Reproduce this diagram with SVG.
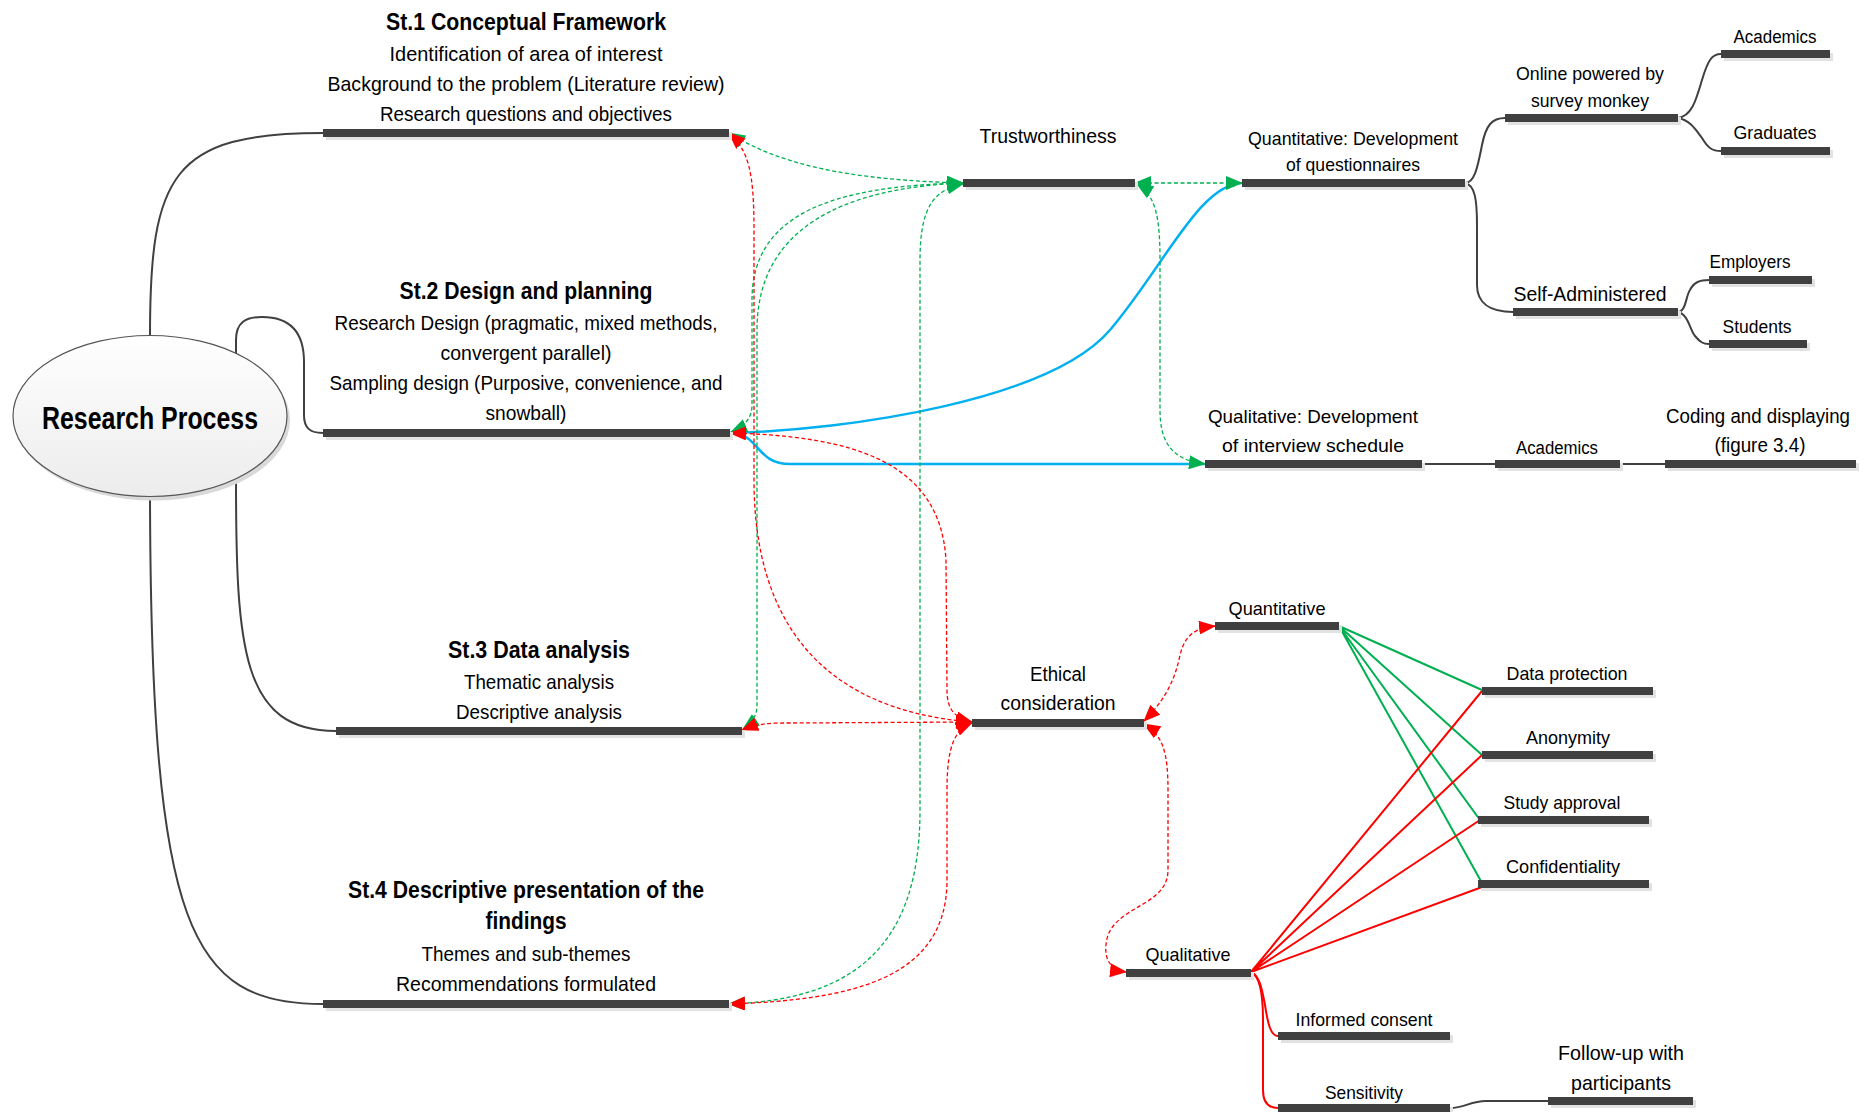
<svg xmlns="http://www.w3.org/2000/svg" width="1866" height="1112" viewBox="0 0 1866 1112">
<style>
.bar{fill:#404040}
.sh{fill:#e2e2e2}
.t{font-family:"Liberation Sans",Arial,sans-serif;fill:#000;text-anchor:middle;font-size:21px}
.s19{font-size:19px}
.s18{font-size:18px}
.b{font-weight:bold;font-size:23px}
.tree{fill:none;stroke:#404040;stroke-width:2}
.gd{fill:none;stroke:#00b050;stroke-width:1.3;stroke-dasharray:4 2.5}
.rd{fill:none;stroke:#ff0000;stroke-width:1.3;stroke-dasharray:4 2.5}
.blue{fill:none;stroke:#00b0f0;stroke-width:2.5}
.gs{fill:none;stroke:#00b050;stroke-width:2}
.rs{fill:none;stroke:#ff0000;stroke-width:2}
</style>
<defs>
<linearGradient id="eg" x1="0" y1="0" x2="0" y2="1">
<stop offset="0" stop-color="#ffffff"/>
<stop offset="1" stop-color="#ececec"/>
</linearGradient>
<marker id="ag" viewBox="0 0 17 14" refX="16" refY="7" markerWidth="17" markerHeight="14" markerUnits="userSpaceOnUse" orient="auto-start-reverse"><path d="M0,0 L17,7 L0,14 z" fill="#00b050"/></marker>
<marker id="ar" viewBox="0 0 17 14" refX="16" refY="7" markerWidth="17" markerHeight="14" markerUnits="userSpaceOnUse" orient="auto-start-reverse"><path d="M0,0 L17,7 L0,14 z" fill="#ff0000"/></marker>
</defs>
<rect width="1866" height="1112" fill="#ffffff"/>

<g id="connectors">
<path class="tree" d="M150 335 C150 175 172 133 323 133"/>
<path class="tree" d="M236 354 L236 340 C236 322 246 317 262 317 C288 317 304 330 304 362 L304 415 C304 428 310 433 323 433"/>
<path class="tree" d="M236 478 C236 650 242 731 336 731"/>
<path class="tree" d="M150 496 C151 930 190 1004 323 1004"/>
<path class="tree" d="M1465 183 C1475 183 1478 165 1482 145 C1486 125 1492 118 1505 118"/>
<path class="tree" d="M1465 183 C1475 185 1477 200 1477 225 L1477 285 C1477 303 1490 312 1513 312"/>
<path class="tree" d="M1678 118 C1692 116 1696 100 1702 80 C1708 60 1712 54 1721 54"/>
<path class="tree" d="M1678 118 C1690 120 1696 130 1702 138 C1708 148 1712 151 1721 151"/>
<path class="tree" d="M1678 312 C1686 312 1686 295 1690 290 C1694 282 1700 280 1709 280"/>
<path class="tree" d="M1678 312 C1688 314 1690 330 1695 336 C1700 342 1703 344 1709 344"/>
<path class="tree" d="M1422 464 L1495 464 M1620 464 L1665 464"/>
<path class="tree" d="M1450 1108 C1465 1108 1470 1101 1486 1101 L1548 1101"/>
<path class="blue" d="M730 433 C850 430 1050 400 1110 330 C1165 265 1200 183 1243 183"/>
<path class="blue" d="M730 433 C760 433 755 464 790 464 L1205 464"/>
<path class="gs" d="M1339 626 L1482 690 M1339 626 L1482 755 M1339 626 L1480 820 M1339 626 L1482 883"/>
<path class="rs" d="M1251 972 L1482 691 M1251 972 L1482 755 M1251 972 L1480 820 M1251 972 L1493 883"/>
<path class="rs" d="M1251 972 C1260 976 1262 990 1265 1005 C1268 1025 1271 1036 1278 1036"/>
<path class="rs" d="M1251 972 C1260 976 1263 995 1263 1020 L1263 1090 C1263 1102 1268 1108 1278 1108"/>
<path class="gd" marker-start="url(#ag)" marker-end="url(#ag)" d="M729 133 C780 165 850 180 963 183"/>
<path class="gd" marker-start="url(#ag)" marker-end="url(#ag)" d="M963 183 C830 186 752 215 752 300 L752 405 C752 418 745 426 731 432"/>
<path class="gd" marker-start="url(#ag)" marker-end="url(#ag)" d="M963 183 C840 188 757 230 757 330 L757 705 C757 715 753 722 743 729"/>
<path class="gd" marker-start="url(#ag)" marker-end="url(#ag)" d="M963 184 C935 190 920 205 920 260 L920 810 C920 950 850 1000 729 1004"/>
<path class="gd" marker-start="url(#ag)" marker-end="url(#ag)" d="M1135 183 L1242 183"/>
<path class="gd" marker-start="url(#ag)" marker-end="url(#ag)" d="M1137 184 C1155 195 1160 215 1160 260 L1160 410 C1160 440 1170 460 1205 464"/>
<path class="rd" marker-start="url(#ar)" marker-end="url(#ar)" d="M729 133 C748 150 754 170 754 230 L754 480 C754 620 820 710 972 722"/>
<path class="rd" marker-start="url(#ar)" marker-end="url(#ar)" d="M730 433 C850 436 940 460 946 560 L947 690 C947 710 955 718 972 722"/>
<path class="rd" marker-start="url(#ar)" marker-end="url(#ar)" d="M742 730 C760 723 770 723 790 723 L972 722"/>
<path class="rd" marker-start="url(#ar)" marker-end="url(#ar)" d="M972 723 C955 730 947 745 947 790 L947 880 C947 980 850 1000 729 1004"/>
<path class="rd" marker-start="url(#ar)" marker-end="url(#ar)" d="M1144 721 C1165 700 1175 680 1180 655 C1185 635 1195 628 1215 626"/>
<path class="rd" marker-start="url(#ar)" marker-end="url(#ar)" d="M1144 724 C1162 735 1168 750 1168 790 L1168 870 C1168 905 1120 905 1108 935 C1102 955 1108 970 1126 972"/>
</g>

<g id="research-process">
<ellipse cx="153" cy="420" rx="137" ry="80.5" fill="#d9d9d9"/>
<ellipse cx="150" cy="416" rx="137" ry="80.5" fill="url(#eg)" stroke="#555555" stroke-width="1.2"/>
<text class="t" x="150" y="429" style="font-weight:bold;font-size:31px" textLength="216" lengthAdjust="spacingAndGlyphs">Research Process</text>
</g>

<g id="st1">
<rect class="sh" x="326" y="132" width="406" height="8"/>
<rect class="bar" x="323" y="129" width="406" height="8"/>
<text class="t b" x="526" y="30" textLength="280" lengthAdjust="spacingAndGlyphs">St.1 Conceptual Framework</text>
<text class="t" x="526" y="61" textLength="273" lengthAdjust="spacingAndGlyphs">Identification of area of interest</text>
<text class="t" x="526" y="91" textLength="397" lengthAdjust="spacingAndGlyphs">Background to the problem (Literature review)</text>
<text class="t" x="526" y="121" textLength="292" lengthAdjust="spacingAndGlyphs">Research questions and objectives</text>
</g>

<g id="st2">
<rect class="sh" x="326" y="432" width="407" height="8"/>
<rect class="bar" x="323" y="429" width="407" height="8"/>
<text class="t b" x="526" y="299" textLength="253" lengthAdjust="spacingAndGlyphs">St.2 Design and planning</text>
<text class="t" x="526" y="330" textLength="383" lengthAdjust="spacingAndGlyphs">Research Design (pragmatic, mixed methods,</text>
<text class="t" x="526" y="360" textLength="171" lengthAdjust="spacingAndGlyphs">convergent parallel)</text>
<text class="t" x="526" y="390" textLength="393" lengthAdjust="spacingAndGlyphs">Sampling design (Purposive, convenience, and</text>
<text class="t" x="526" y="420" textLength="81" lengthAdjust="spacingAndGlyphs">snowball)</text>
</g>

<g id="st3">
<rect class="sh" x="339" y="730" width="406" height="8"/>
<rect class="bar" x="336" y="727" width="406" height="8"/>
<text class="t b" x="539" y="658" textLength="182" lengthAdjust="spacingAndGlyphs">St.3 Data analysis</text>
<text class="t" x="539" y="689" textLength="150" lengthAdjust="spacingAndGlyphs">Thematic analysis</text>
<text class="t" x="539" y="719" textLength="166" lengthAdjust="spacingAndGlyphs">Descriptive analysis</text>
</g>

<g id="st4">
<rect class="sh" x="326" y="1003" width="406" height="8"/>
<rect class="bar" x="323" y="1000" width="406" height="8"/>
<text class="t b" x="526" y="898" textLength="356" lengthAdjust="spacingAndGlyphs">St.4 Descriptive presentation of the</text>
<text class="t b" x="526" y="929" textLength="81" lengthAdjust="spacingAndGlyphs">findings</text>
<text class="t" x="526" y="961" textLength="209" lengthAdjust="spacingAndGlyphs">Themes and sub-themes</text>
<text class="t" x="526" y="991" textLength="260" lengthAdjust="spacingAndGlyphs">Recommendations formulated</text>
</g>

<g id="trustworthiness">
<rect class="sh" x="966" y="182" width="172" height="8"/>
<rect class="bar" x="963" y="179" width="172" height="8"/>
<text class="t" x="1048" y="143" textLength="137" lengthAdjust="spacingAndGlyphs">Trustworthiness</text>
</g>

<g id="quant-dev">
<rect class="sh" x="1245" y="182" width="223" height="8"/>
<rect class="bar" x="1242" y="179" width="223" height="8"/>
<text class="t s19" x="1353" y="145" textLength="210" lengthAdjust="spacingAndGlyphs">Quantitative: Development</text>
<text class="t s19" x="1353" y="171" textLength="134" lengthAdjust="spacingAndGlyphs">of questionnaires</text>
</g>

<g id="online">
<rect class="sh" x="1508" y="117" width="173" height="8"/>
<rect class="bar" x="1505" y="114" width="173" height="8"/>
<text class="t s19" x="1590" y="80" textLength="148" lengthAdjust="spacingAndGlyphs">Online powered by</text>
<text class="t s19" x="1590" y="107" textLength="118" lengthAdjust="spacingAndGlyphs">survey monkey</text>
</g>

<g id="academics-1">
<rect class="sh" x="1724" y="53" width="109" height="8"/>
<rect class="bar" x="1721" y="50" width="109" height="8"/>
<text class="t s18" x="1775" y="43" textLength="83" lengthAdjust="spacingAndGlyphs">Academics</text>
</g>

<g id="graduates">
<rect class="sh" x="1724" y="150" width="109" height="8"/>
<rect class="bar" x="1721" y="147" width="109" height="8"/>
<text class="t s19" x="1775" y="139" textLength="83" lengthAdjust="spacingAndGlyphs">Graduates</text>
</g>

<g id="self-administered">
<rect class="sh" x="1516" y="311" width="165" height="8"/>
<rect class="bar" x="1513" y="308" width="165" height="8"/>
<text class="t" x="1590" y="301" textLength="153" lengthAdjust="spacingAndGlyphs">Self-Administered</text>
</g>

<g id="employers">
<rect class="sh" x="1712" y="279" width="103" height="8"/>
<rect class="bar" x="1709" y="276" width="103" height="8"/>
<text class="t s18" x="1750" y="268" textLength="81" lengthAdjust="spacingAndGlyphs">Employers</text>
</g>

<g id="students">
<rect class="sh" x="1712" y="343" width="98" height="8"/>
<rect class="bar" x="1709" y="340" width="98" height="8"/>
<text class="t s18" x="1757" y="333" textLength="69" lengthAdjust="spacingAndGlyphs">Students</text>
</g>

<g id="qual-dev">
<rect class="sh" x="1208" y="463" width="217" height="8"/>
<rect class="bar" x="1205" y="460" width="217" height="8"/>
<text class="t s19" x="1313" y="423" textLength="210" lengthAdjust="spacingAndGlyphs">Qualitative: Development</text>
<text class="t s19" x="1313" y="452" textLength="182" lengthAdjust="spacingAndGlyphs">of interview schedule</text>
</g>

<g id="academics-2">
<rect class="sh" x="1498" y="463" width="125" height="8"/>
<rect class="bar" x="1495" y="460" width="125" height="8"/>
<text class="t s18" x="1557" y="454" textLength="82" lengthAdjust="spacingAndGlyphs">Academics</text>
</g>

<g id="coding">
<rect class="sh" x="1668" y="463" width="191" height="8"/>
<rect class="bar" x="1665" y="460" width="191" height="8"/>
<text class="t" x="1758" y="423" style="font-size:19.5px" textLength="184" lengthAdjust="spacingAndGlyphs">Coding and displaying</text>
<text class="t" x="1760" y="452" textLength="91" lengthAdjust="spacingAndGlyphs">(figure 3.4)</text>
</g>

<g id="ethical">
<rect class="sh" x="975" y="722" width="172" height="8"/>
<rect class="bar" x="972" y="719" width="172" height="8"/>
<text class="t" x="1058" y="681" style="font-size:20px" textLength="56" lengthAdjust="spacingAndGlyphs">Ethical</text>
<text class="t" x="1058" y="710" style="font-size:20px" textLength="115" lengthAdjust="spacingAndGlyphs">consideration</text>
</g>

<g id="quantitative">
<rect class="sh" x="1218" y="625" width="124" height="8"/>
<rect class="bar" x="1215" y="622" width="124" height="8"/>
<text class="t s19" x="1277" y="615" textLength="97" lengthAdjust="spacingAndGlyphs">Quantitative</text>
</g>

<g id="data-protection">
<rect class="sh" x="1485" y="690" width="171" height="8"/>
<rect class="bar" x="1482" y="687" width="171" height="8"/>
<text class="t s19" x="1567" y="680" textLength="121" lengthAdjust="spacingAndGlyphs">Data protection</text>
</g>

<g id="anonymity">
<rect class="sh" x="1485" y="754" width="171" height="8"/>
<rect class="bar" x="1482" y="751" width="171" height="8"/>
<text class="t s19" x="1568" y="744" textLength="84" lengthAdjust="spacingAndGlyphs">Anonymity</text>
</g>

<g id="study-approval">
<rect class="sh" x="1481" y="819" width="171" height="8"/>
<rect class="bar" x="1478" y="816" width="171" height="8"/>
<text class="t s19" x="1562" y="809" textLength="117" lengthAdjust="spacingAndGlyphs">Study approval</text>
</g>

<g id="confidentiality">
<rect class="sh" x="1481" y="883" width="171" height="8"/>
<rect class="bar" x="1478" y="880" width="171" height="8"/>
<text class="t s19" x="1563" y="873" textLength="114" lengthAdjust="spacingAndGlyphs">Confidentiality</text>
</g>

<g id="qualitative">
<rect class="sh" x="1129" y="972" width="125" height="8"/>
<rect class="bar" x="1126" y="969" width="125" height="8"/>
<text class="t s19" x="1188" y="961" textLength="85" lengthAdjust="spacingAndGlyphs">Qualitative</text>
</g>

<g id="informed-consent">
<rect class="sh" x="1281" y="1035" width="172" height="8"/>
<rect class="bar" x="1278" y="1032" width="172" height="8"/>
<text class="t s19" x="1364" y="1026" textLength="137" lengthAdjust="spacingAndGlyphs">Informed consent</text>
</g>

<g id="sensitivity">
<rect class="sh" x="1281" y="1107" width="172" height="8"/>
<rect class="bar" x="1278" y="1104" width="172" height="8"/>
<text class="t s19" x="1364" y="1099" textLength="78" lengthAdjust="spacingAndGlyphs">Sensitivity</text>
</g>

<g id="follow-up">
<rect class="sh" x="1551" y="1100" width="145" height="8"/>
<rect class="bar" x="1548" y="1097" width="145" height="8"/>
<text class="t" x="1621" y="1060" textLength="126" lengthAdjust="spacingAndGlyphs">Follow-up with</text>
<text class="t" x="1621" y="1090" textLength="100" lengthAdjust="spacingAndGlyphs">participants</text>
</g>
</svg>
